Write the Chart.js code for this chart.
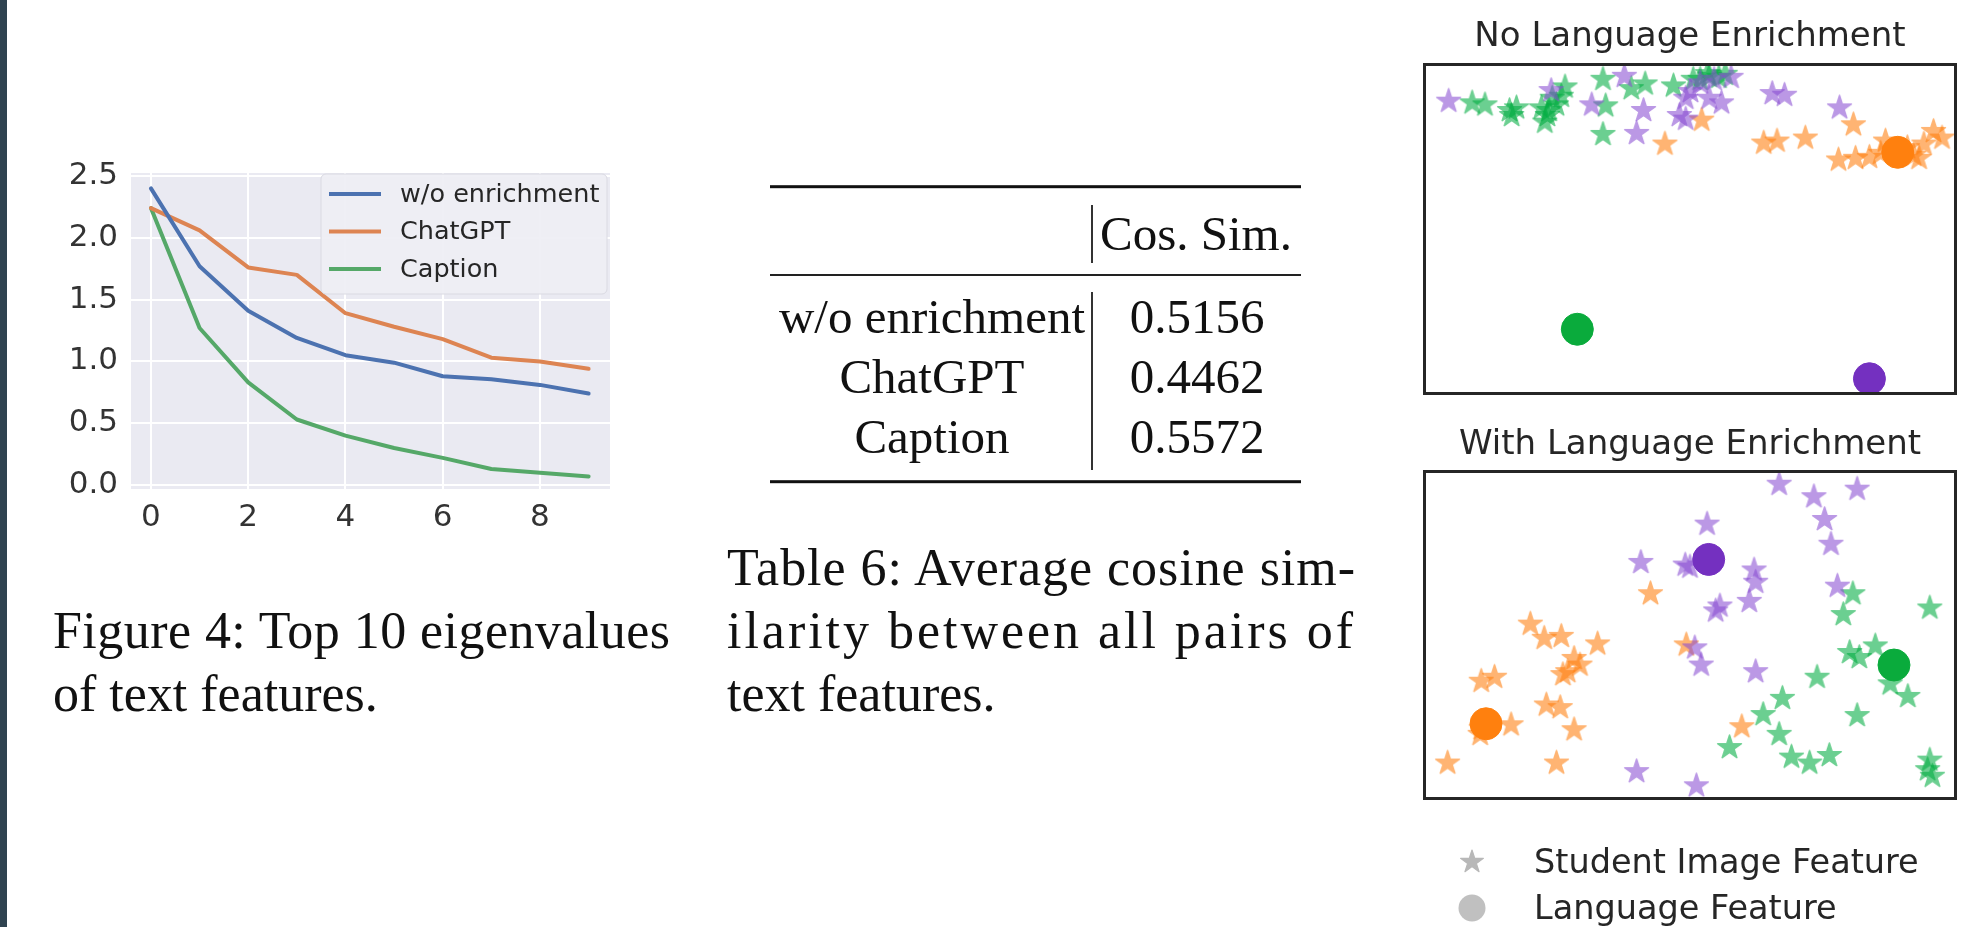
<!DOCTYPE html>
<html>
<head>
<meta charset="utf-8">
<script src="https://cdn.jsdelivr.net/npm/chart.js@4/dist/chart.umd.min.js"></script>
<style>
  html, body { margin: 0; padding: 0; background: #ffffff; }
  #page { position: relative; width: 1978px; height: 927px; overflow: hidden; background: #ffffff; }
  #strip { position: absolute; left: 0; top: 0; width: 7px; height: 927px; background: #2f4350; }
  canvas { position: absolute; }
  #overlay { position: absolute; left: 0; top: 0; }
</style>
</head>
<body>
<div id="page">
  <div id="strip"></div>
  <canvas id="eigChart" width="620" height="440" style="left:7px;top:120px;width:620px;height:440px;"></canvas>
  <canvas id="noEnrichChart" width="568" height="412" style="left:1406px;top:0px;width:568px;height:412px;"></canvas>
  <canvas id="withEnrichChart" width="568" height="409" style="left:1406px;top:408px;width:568px;height:409px;"></canvas>
  <svg id="overlay" width="1978" height="927" xmlns="http://www.w3.org/2000/svg"></svg>
</div>
<script>
// ---------------- Data ----------------
// Figure 4: top-10 eigenvalues of text features
const eigIndex = [0, 1, 2, 3, 4, 5, 6, 7, 8, 9];
const woEnrichment = [2.40, 1.77, 1.41, 1.19, 1.05, 0.99, 0.88, 0.855, 0.81, 0.74];
const chatGPT = [2.24, 2.06, 1.76, 1.70, 1.39, 1.28, 1.18, 1.03, 1.00, 0.94];
const captionSeries = [2.24, 1.27, 0.83, 0.53, 0.40, 0.30, 0.22, 0.13, 0.10, 0.07];
const seriesLabels = ['w/o enrichment', 'ChatGPT', 'Caption'];
const yTicks = [0, 0.5, 1.0, 1.5, 2.0, 2.5];
const xTicks = [0, 2, 4, 6, 8];

// Table 6
const tableHeader = 'Cos. Sim.';
const tableRows = ['w/o enrichment', 'ChatGPT', 'Caption'];
const cosSim = ['0.5156', '0.4462', '0.5572'];

// Captions
const figCaption = ['Figure 4: Top 10 eigenvalues', 'of text features.'];
const tableCaption = ['Table 6: Average cosine sim-', 'ilarity between all pairs of', 'text features.'];

// Scatter panels (2-D embedding coordinates, 0-100 units)
const panelTitles = ['No Language Enrichment', 'With Language Enrichment'];
const scatterLegend = ['Student Image Feature', 'Language Feature'];

const noEnrichPurpleStars = [[4.8,88.5],[24.0,91.7],[37.7,96.0],[31.6,87.4],[41.3,85.7],[40.0,78.8],[48.0,84.2],[49.2,89.4],[50.1,91.4],[53.6,89.4],[55.9,88.0],[49.2,83.1],[57.7,95.7],[65.4,90.8],[67.7,90.3],[78.0,86.5],[54.5,95.1],[51.9,94.0]];
const noEnrichGreenStars = [[9.2,88.0],[11.6,87.4],[16.2,85.7],[17.5,86.5],[16.6,84.2],[22.2,86.5],[23.6,85.7],[22.8,82.2],[25.0,87.4],[26.6,92.8],[25.9,90.0],[24.2,89.4],[23.3,84.2],[33.7,95.1],[39.0,92.3],[41.6,93.7],[34.2,87.1],[33.7,78.5],[46.9,93.1],[50.6,95.1],[51.9,95.1],[53.6,96.0],[55.4,95.7],[56.6,96.6],[53.3,96.8]];
const noEnrichOrangeStars = [[45.3,75.6],[52.2,82.8],[80.6,81.4],[63.8,75.9],[66.3,76.5],[71.6,77.4],[77.8,70.8],[81.0,71.3],[83.6,71.6],[86.6,76.5],[91.9,72.2],[93.8,75.6],[95.6,79.4],[97.2,77.4],[92.9,71.3],[85.7,72.8],[90.7,74.5]];
const noEnrichLangPurple = [[83.6,4.9]];
const noEnrichLangGreen = [[28.9,19.8]];
const noEnrichLangOrange = [[88.9,73.1]];

const withEnrichOrangeStars = [[42.6,62.5],[20.1,53.3],[22.7,49.0],[25.9,49.6],[32.7,47.3],[28.3,42.9],[27.1,38.9],[29.4,40.9],[26.2,38.0],[10.9,36.0],[13.4,37.2],[23.1,28.8],[25.7,28.0],[16.5,22.8],[28.3,21.3],[10.7,19.9],[4.6,11.2],[25.0,11.2],[49.3,47.0],[59.7,22.2],[10.9,21.6]];
const withEnrichPurpleStars = [[40.8,72.0],[49.1,71.2],[40.0,8.6],[51.2,4.3],[66.7,95.7],[73.2,91.9],[81.3,94.2],[75.2,85.0],[53.2,83.6],[76.4,77.5],[50.0,70.6],[62.0,69.7],[62.3,66.0],[54.8,57.3],[55.6,58.8],[61.1,60.2],[77.6,64.8],[50.9,46.1],[52.1,40.9],[62.3,38.9]];
const withEnrichGreenStars = [[80.5,62.5],[78.7,56.2],[94.9,58.2],[79.9,44.7],[81.7,43.2],[84.7,46.7],[73.8,37.2],[87.5,35.2],[90.8,31.4],[81.3,25.6],[67.3,30.8],[63.7,25.9],[66.7,19.9],[57.4,15.9],[69.0,13.0],[72.4,11.2],[76.1,13.5],[94.5,9.2],[95.4,7.2],[94.9,12.1]];
const withEnrichLangPurple = [[53.5,72.9]];
const withEnrichLangGreen = [[88.2,40.9]];
const withEnrichLangOrange = [[11.8,23.1]];

// ---------------- Styles ----------------
const lineColors = ['#4c72b0', '#dd8452', '#55a868'];
const starColors = { purple: '#8a4fd3', green: '#00ad42', orange: '#ff7f0e' };
const langColors = { purple: '#7430c0', green: '#0aab3c', orange: '#ff800e' };
const sansFont = "'DejaVu Sans', Verdana, sans-serif";
const serifFont = "'Liberation Serif', 'Times New Roman', serif";

// ---------------- Figure 4 line chart ----------------
const toXY = (ys) => ys.map((v, i) => ({ x: eigIndex[i], y: v }));

const axesBackground = {
  id: 'axesBackground',
  beforeDraw(chart) {
    const { ctx, chartArea: a } = chart;
    ctx.save();
    ctx.fillStyle = '#eaeaf2';
    ctx.fillRect(a.left, a.top, a.right - a.left, a.bottom - a.top);
    ctx.restore();
  }
};

const insideLegend = {
  id: 'insideLegend',
  afterDatasetsDraw(chart) {
    const { ctx, chartArea: a } = chart;
    const bx = a.right - 289, by = a.top + 1, bw = 286, bh = 120;
    ctx.save();
    ctx.beginPath();
    ctx.roundRect(bx, by, bw, bh, 5);
    ctx.fillStyle = 'rgba(238,238,244,0.92)';
    ctx.fill();
    ctx.strokeStyle = '#dadae2';
    ctx.lineWidth = 1;
    ctx.stroke();
    ctx.font = "25.5px " + sansFont;
    ctx.textBaseline = 'middle';
    ctx.fillStyle = '#262626';
    chart.data.datasets.forEach((ds, i) => {
      const y = by + 20 + i * 37.5;
      ctx.beginPath();
      ctx.strokeStyle = ds.borderColor;
      ctx.lineWidth = 4;
      ctx.moveTo(bx + 8, y);
      ctx.lineTo(bx + 60, y);
      ctx.stroke();
      ctx.fillText(ds.label, bx + 79, y + 1);
    });
    ctx.restore();
  }
};

new Chart(document.getElementById('eigChart'), {
  type: 'line',
  data: {
    datasets: [
      { label: seriesLabels[0], data: toXY(woEnrichment), borderColor: lineColors[0] },
      { label: seriesLabels[1], data: toXY(chatGPT), borderColor: lineColors[1] },
      { label: seriesLabels[2], data: toXY(captionSeries), borderColor: lineColors[2] }
    ].map(d => Object.assign(d, { borderWidth: 4, pointRadius: 0, tension: 0, fill: false, borderJoinStyle: 'round', borderCapStyle: 'round' }))
  },
  options: {
    responsive: false,
    animation: false,
    devicePixelRatio: 1,
    layout: { padding: { top: 53, right: 17, left: 0, bottom: 0 } },
    plugins: { legend: { display: false }, tooltip: { enabled: false }, title: { display: false } },
    scales: {
      x: {
        type: 'linear', min: -0.41, max: 9.44,
        afterFit: s => { s.height = 71; },
        afterBuildTicks: s => { s.ticks = xTicks.map(v => ({ value: v })); },
        grid: { color: '#ffffff', lineWidth: 2, drawTicks: false },
        border: { display: false },
        ticks: { color: '#333333', padding: 10, font: { family: sansFont, size: 31 }, callback: v => String(v) }
      },
      y: {
        type: 'linear', min: -0.032, max: 2.524,
        afterFit: s => { s.width = 124; },
        afterBuildTicks: s => { s.ticks = yTicks.map(v => ({ value: v })); },
        grid: { color: '#ffffff', lineWidth: 2, drawTicks: false },
        border: { display: false },
        ticks: { color: '#333333', padding: 13, font: { family: sansFont, size: 31 }, callback: v => Number(v).toFixed(1) }
      }
    }
  },
  plugins: [axesBackground, insideLegend]
});

// ---------------- Scatter panels ----------------
function makeStar(color, R) {
  const size = Math.ceil(R * 2 + 4);
  const base = document.createElement('canvas');
  base.width = base.height = size;
  const g = base.getContext('2d');
  const r = R * 0.382;
  g.beginPath();
  for (let i = 0; i < 10; i++) {
    const ang = -Math.PI / 2 + i * Math.PI / 5;
    const rad = (i % 2) ? r : R;
    g.lineTo(size / 2 + rad * Math.cos(ang), size / 2 + rad * Math.sin(ang));
  }
  g.closePath();
  g.fillStyle = color; g.fill();
  g.lineJoin = 'round'; g.lineWidth = 1.5; g.strokeStyle = color; g.stroke();
  const out = document.createElement('canvas');
  out.width = out.height = size;
  const o = out.getContext('2d');
  o.globalAlpha = 0.58;
  o.drawImage(base, 0, 0);
  return out;
}
const starImg = {
  purple: makeStar(starColors.purple, 12.5),
  green: makeStar(starColors.green, 12.5),
  orange: makeStar(starColors.orange, 12.5)
};

const toPts = arr => arr.map(([x, y]) => ({ x, y }));

const frameBox = {
  id: 'frameBox',
  afterDraw(chart) {
    const { ctx, chartArea: a } = chart;
    ctx.save();
    ctx.strokeStyle = '#262626';
    ctx.lineWidth = 3;
    ctx.strokeRect(a.left + 1.5, a.top + 1.5, a.right - a.left - 3, a.bottom - a.top - 3);
    ctx.restore();
  }
};

function scatterChart(id, title, padTop, padBottom, sets) {
  const datasets = [
    { label: 'purple stars', data: toPts(sets.purpleStars), pointStyle: starImg.purple, order: 2 },
    { label: 'green stars', data: toPts(sets.greenStars), pointStyle: starImg.green, order: 2 },
    { label: 'orange stars', data: toPts(sets.orangeStars), pointStyle: starImg.orange, order: 2 },
    { label: 'purple language', data: toPts(sets.langPurple), pointStyle: 'circle', pointRadius: 16, backgroundColor: langColors.purple, borderColor: langColors.purple, order: 1 },
    { label: 'green language', data: toPts(sets.langGreen), pointStyle: 'circle', pointRadius: 16, backgroundColor: langColors.green, borderColor: langColors.green, order: 1 },
    { label: 'orange language', data: toPts(sets.langOrange), pointStyle: 'circle', pointRadius: 16, backgroundColor: langColors.orange, borderColor: langColors.orange, order: 1 }
  ];
  return new Chart(document.getElementById(id), {
    type: 'scatter',
    data: { datasets },
    options: {
      responsive: false,
      animation: false,
      devicePixelRatio: 1,
      layout: { padding: 0 },
      plugins: {
        legend: { display: false },
        tooltip: { enabled: false },
        title: {
          display: true, text: title, color: '#262626',
          font: { family: sansFont, size: 34, weight: 'normal', lineHeight: 1.2 },
          padding: { top: padTop, bottom: padBottom }
        }
      },
      scales: {
        x: { type: 'linear', min: 0, max: 100, display: false },
        y: { type: 'linear', min: 0, max: 100, display: false }
      }
    },
    plugins: [frameBox]
  });
}

scatterChart('noEnrichChart', panelTitles[0], 16.6, 5.6, {
  purpleStars: noEnrichPurpleStars, greenStars: noEnrichGreenStars, orangeStars: noEnrichOrangeStars,
  langPurple: noEnrichLangPurple, langGreen: noEnrichLangGreen, langOrange: noEnrichLangOrange
});
scatterChart('withEnrichChart', panelTitles[1], 16.6, 4.6, {
  purpleStars: withEnrichPurpleStars, greenStars: withEnrichGreenStars, orangeStars: withEnrichOrangeStars,
  langPurple: withEnrichLangPurple, langGreen: withEnrichLangGreen, langOrange: withEnrichLangOrange
});

// ---------------- Table, captions and scatter legend (SVG text) ----------------
const svg = document.getElementById('overlay');
const NS = 'http://www.w3.org/2000/svg';
function el(name, attrs, text) {
  const e = document.createElementNS(NS, name);
  for (const k in attrs) e.setAttribute(k, attrs[k]);
  if (text !== undefined) e.textContent = text;
  svg.appendChild(e);
  return e;
}
// rules
el('rect', { x: 770, y: 185.2, width: 531, height: 3, fill: '#111' });
el('rect', { x: 770, y: 274, width: 531, height: 2, fill: '#222' });
el('rect', { x: 770, y: 480.2, width: 531, height: 3, fill: '#111' });
el('rect', { x: 1091, y: 205, width: 2, height: 58, fill: '#333' });
el('rect', { x: 1091, y: 292, width: 2, height: 178, fill: '#333' });
// header & rows
el('text', { x: 1100, y: 250, 'font-family': serifFont, 'font-size': 49, fill: '#111' }, tableHeader);
const rowBaselines = [333, 393, 453];
tableRows.forEach((r, i) => {
  el('text', { x: 932, y: rowBaselines[i], 'text-anchor': 'middle', 'font-family': serifFont, 'font-size': 49, fill: '#111' }, r);
  el('text', { x: 1197, y: rowBaselines[i], 'text-anchor': 'middle', 'font-family': serifFont, 'font-size': 49, fill: '#111' }, cosSim[i]);
});
// captions
el('text', { x: 53, y: 648, 'font-family': serifFont, 'font-size': 52, fill: '#111', textLength: 617, lengthAdjust: 'spacing' }, figCaption[0]);
el('text', { x: 53, y: 711, 'font-family': serifFont, 'font-size': 52, fill: '#111' }, figCaption[1]);
el('text', { x: 727, y: 585, 'font-family': serifFont, 'font-size': 52, fill: '#111', textLength: 628, lengthAdjust: 'spacing' }, tableCaption[0]);
el('text', { x: 727, y: 648, 'font-family': serifFont, 'font-size': 52, fill: '#111', textLength: 626, lengthAdjust: 'spacing' }, tableCaption[1]);
el('text', { x: 727, y: 711, 'font-family': serifFont, 'font-size': 52, fill: '#111' }, tableCaption[2]);
// scatter legend
(function () {
  const cx = 1472, cy = 862, R = 12, r = R * 0.382;
  let pts = [];
  for (let i = 0; i < 10; i++) {
    const ang = -Math.PI / 2 + i * Math.PI / 5;
    const rad = (i % 2) ? r : R;
    pts.push((cx + rad * Math.cos(ang)).toFixed(2) + ',' + (cy + rad * Math.sin(ang)).toFixed(2));
  }
  el('polygon', { points: pts.join(' '), fill: '#b8b8b8', stroke: '#b8b8b8', 'stroke-width': 1.2, 'stroke-linejoin': 'round' });
  el('circle', { cx: 1472, cy: 908, r: 13.5, fill: '#c0c0c0' });
  el('text', { x: 1534, y: 873, 'font-family': sansFont, 'font-size': 33.5, fill: '#262626' }, scatterLegend[0]);
  el('text', { x: 1534, y: 919, 'font-family': sansFont, 'font-size': 33.5, fill: '#262626' }, scatterLegend[1]);
})();
</script>
</body>
</html>
